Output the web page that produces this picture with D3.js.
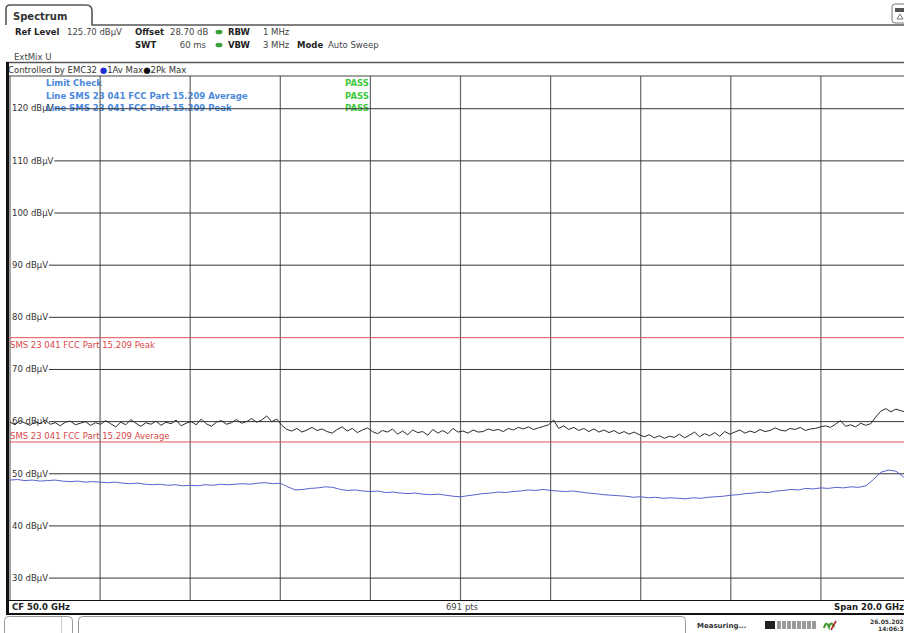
<!DOCTYPE html>
<html>
<head>
<meta charset="utf-8">
<script src="https://cdn.jsdelivr.net/npm/d3@7"></script>
<style>
body { margin: 0; background: #fff; }
svg { display: block; font-family: "DejaVu Sans", Verdana, sans-serif; }
</style>
</head>
<body>
<svg id="chart" width="904" height="633"></svg>
<script>
// sweep settings (CF 50 GHz, span 20 GHz)
let freqStart = 40;
let freqStop = 60;
let refLevel = 125.7;
let rangeDb = 100;

let yTicks = [120, 110, 100, 90, 80, 70, 60, 50, 40, 30];
let xGridFreqs = [40, 42, 44, 46, 48, 50, 52, 54, 56, 58, 60];

let limitNames = ["SMS 23 041 FCC Part 15.209 Peak", "SMS 23 041 FCC Part 15.209 Average"];
let limitLevels = [76, 56];

let checkRows = ["Limit Check", "Line SMS 23 041 FCC Part 15.209 Average", "Line SMS 23 041 FCC Part 15.209 Peak"];
let checkResults = ["PASS", "PASS", "PASS"];

// trace 2: Pk Max (dBµV)
let peakLevels = [
    59.8, 59.3, 60.1, 59.6, 59.2, 59.9, 59.5, 60.2, 59.4, 59.7, 59.1, 59.8, 60.0, 59.3, 59.6, 59.9, 59.2, 59.7,
    59.4, 60.1, 59.5, 58.9, 59.8, 59.3, 60.3, 59.6, 59.0, 59.7, 59.4, 60.0, 59.2, 59.8, 59.5, 60.2, 59.1, 59.6,
    59.9, 59.3, 60.4, 59.5, 59.0, 59.8, 60.1, 59.4, 59.7, 60.3, 59.6, 59.9, 60.5, 59.8, 60.2, 61.0, 59.9, 60.4,
    59.2, 58.4, 58.1, 58.6, 57.9, 58.3, 58.8, 58.2, 58.5, 58.0, 57.7, 58.4, 58.9, 58.1, 58.6, 57.8, 58.3, 58.7,
    58.0, 57.6, 58.2, 57.9, 58.5, 57.5, 58.1, 57.4, 58.3, 57.8, 58.0, 57.3, 58.4, 57.7, 58.2, 57.6, 58.6, 57.9,
    58.1, 57.7, 58.3, 57.9, 58.0, 58.5, 58.2, 58.4, 58.0, 58.6, 58.3, 58.8, 58.5, 58.9, 58.4, 58.7, 59.0, 59.3,
    60.2, 58.6, 59.1, 58.4, 58.8, 58.2, 58.6, 58.0, 58.5, 57.9, 58.3, 57.8, 58.2, 57.6, 58.0, 57.5, 57.9, 57.4,
    57.0, 57.4, 56.8, 57.2, 56.7, 57.1, 56.9, 57.5, 56.8, 57.3, 57.9, 57.0, 57.6, 57.2, 57.8, 57.1, 58.0, 57.5,
    57.9, 58.3, 57.7, 58.1, 57.8, 58.4, 58.0, 58.2, 58.7, 58.3, 58.1, 58.6, 58.4, 58.8, 58.2, 58.5, 58.6, 58.9,
    59.1, 58.8, 59.4, 60.1, 59.0, 59.3, 58.9, 59.6, 59.2, 59.5,
    60.8, 61.9, 62.4, 61.8, 62.3, 62.0, 61.7, 61.0
];

// trace 1: Av Max (dBµV)
let avgLevels = [
    48.7, 48.8, 48.6, 48.7, 48.5, 48.6, 48.7, 48.5, 48.4, 48.5, 48.3, 48.4, 48.3, 48.2, 48.3, 48.1,
    48.0, 48.1, 47.9, 47.8, 47.9, 47.7, 47.8, 47.6, 47.7, 47.6, 47.8, 47.7, 47.9, 47.8, 47.9, 48.0,
    47.9, 48.1, 48.2, 48.0, 48.1, 47.4, 46.8, 46.9, 47.1, 47.2, 47.4, 47.3, 46.9, 46.7, 46.8, 46.6,
    46.5, 46.6, 46.3, 46.4, 46.2, 46.1, 46.2, 46.0, 45.9, 46.0, 45.8, 45.6, 45.5, 45.7, 45.9, 46.1,
    46.2, 46.4, 46.3, 46.5, 46.6, 46.8, 46.7, 46.9, 46.7, 46.6, 46.5, 46.6, 46.4, 46.2, 46.1, 45.9,
    45.8, 45.7, 45.6, 45.4, 45.5, 45.3, 45.4, 45.2, 45.3, 45.2, 45.1, 45.3, 45.2, 45.4, 45.5, 45.6,
    45.8, 45.9, 46.1, 46.2, 46.4, 46.3, 46.6, 46.7, 46.9, 46.8, 47.1, 47.0, 47.2, 47.1, 47.3, 47.2,
    47.4, 47.3, 47.6, 48.8, 50.2, 50.6, 50.4, 49.3, 47.9
];

let svg = d3.select("#chart");
let W = 904;
let plotTop = 76;
let plotBottom = 600;

let x = d3.scaleLinear().domain([freqStart, freqStop]).range([10, 911]);
let y = d3.scaleLinear().domain([refLevel - rangeDb, refLevel]).range([600, 78.5]);

let fs = "8.5px";

//=================================
//       header / settings
//=================================
// "Spectrum" tab
svg.append("path")
    .attr("d", "M6,25 L6,9 Q6,5 10,5 L86,5 Q92,5 92,11 L92,25 L904,25")
    .attr("fill", "none").attr("stroke", "#555").attr("stroke-width", 1.6);
svg.append("text").attr("x", 13).attr("y", 20)
    .style("font-size", "10px").style("font-weight", "bold").attr("fill", "#333")
    .text("Spectrum");

// icon at the top right corner
svg.append("rect").attr("x", 892).attr("y", 4).attr("width", 20).attr("height", 19).attr("rx", 3)
    .attr("fill", "#fff").attr("stroke", "#777");
svg.append("rect").attr("x", 895).attr("y", 8).attr("width", 9).attr("height", 4).attr("fill", "#555");
svg.append("path").attr("d", "M897,19 L900,14 L903,19 Z").attr("fill", "none").attr("stroke", "#777");

function hText(xp, yp, t, bold, anchor) {
    svg.append("text").attr("x", xp).attr("y", yp)
        .attr("text-anchor", anchor || "start")
        .style("font-size", fs)
        .style("font-weight", bold ? "bold" : "normal")
        .attr("fill", bold ? "#222" : "#444")
        .text(t);
}
hText(15, 35, "Ref Level", true);
hText(67, 35, "125.70 dBµV", false);
hText(135, 35, "Offset", true);
hText(170, 35, "28.70 dB", false);
hText(228, 35, "RBW", true);
hText(263, 35, "1 MHz", false);
hText(135, 48, "SWT", true);
hText(206, 48, "60 ms", false, "end");
hText(228, 48, "VBW", true);
hText(263, 48, "3 MHz", false);
hText(297, 48, "Mode", true);
hText(328, 48, "Auto Sweep", false);
hText(14, 60, "ExtMix U", false);
[32, 45].forEach(function (cy) {
    svg.append("ellipse").attr("cx", 219).attr("cy", cy).attr("rx", 3.5).attr("ry", 2.3).attr("fill", "#3aa03a");
});

svg.append("line").attr("x1", 6).attr("x2", W).attr("y1", 62.5).attr("y2", 62.5)
    .attr("stroke", "#555").attr("stroke-width", 1.6);

// trace legend row
let ctl = svg.append("text").attr("x", 8).attr("y", 73).style("font-size", fs).attr("fill", "#333");
ctl.append("tspan").text("Controlled by EMC32 ");
ctl.append("tspan").attr("fill", "#2030d0").text("●");
ctl.append("tspan").text("1Av Max");
ctl.append("tspan").attr("fill", "#111").text("●");
ctl.append("tspan").text("2Pk Max");

//=================================
//       limit check legend
//=================================
let check = svg.append("g");
checkRows.forEach(function (t, i) {
    check.append("text").attr("x", 46).attr("y", 86 + i * 12.7)
        .style("font-size", fs).style("font-weight", "bold").attr("fill", "#4a88dc").text(t);
    check.append("text").attr("x", 345).attr("y", 86 + i * 12.7)
        .style("font-size", fs).style("font-weight", "bold").attr("fill", "#3ec83e").text(checkResults[i]);
});

//=================================
//            grid
//=================================
let grid = svg.append("g");
xGridFreqs.forEach(function (f) {
    grid.append("line").attr("x1", x(f)).attr("x2", x(f)).attr("y1", plotTop).attr("y2", plotBottom)
        .attr("stroke", "#666").attr("stroke-width", 1.2);
});

let yAxis = d3.axisRight(y).tickValues(yTicks).tickSize(0).tickPadding(0)
    .tickFormat(function (d) { return d + " dBµV"; });
let axisG = svg.append("g").attr("transform", "translate(12,0)").call(yAxis);
axisG.select(".domain").remove();
axisG.selectAll("text").style("font-size", fs).style("font-family", "DejaVu Sans, sans-serif").attr("fill", "#333");
axisG.selectAll(".tick").each(function (d) {
    let len = this.querySelector("text").getComputedTextLength();
    grid.append("line").attr("x1", 12 + len + 1).attr("x2", W).attr("y1", y(d) + 0.5).attr("y2", y(d) + 0.5)
        .attr("stroke", "#333").attr("stroke-width", 1);
});

// limit lines
limitLevels.forEach(function (lv, i) {
    svg.append("line").attr("x1", 10).attr("x2", W).attr("y1", y(lv)).attr("y2", y(lv))
        .attr("stroke", "#e05050").attr("stroke-width", 1);
    svg.append("text").attr("x", 10).attr("y", i === 0 ? y(lv) + 10 : y(lv) - 3)
        .style("font-size", fs).attr("fill", "#d84848").text(limitNames[i]);
});

//=================================
//            traces
//=================================
svg.append("clipPath").attr("id", "plotClip").append("rect")
    .attr("x", 10).attr("y", plotTop).attr("width", 901).attr("height", plotBottom - plotTop);

function traceLine(levels) {
    let step = (freqStop - freqStart) / (levels.length - 1);
    return d3.line()
        .x(function (d, i) { return x(freqStart + i * step); })
        .y(function (d) { return y(d); })(levels);
}
svg.append("path").attr("d", traceLine(avgLevels)).attr("clip-path", "url(#plotClip)")
    .attr("fill", "none").attr("stroke", "#5a62d0").attr("stroke-width", 1);
svg.append("path").attr("d", traceLine(peakLevels)).attr("clip-path", "url(#plotClip)")
    .attr("fill", "none").attr("stroke", "#2a2a2a").attr("stroke-width", 1);

//=================================
//        frame and footer
//=================================
svg.append("line").attr("x1", 6).attr("x2", W).attr("y1", plotTop).attr("y2", plotTop)
    .attr("stroke", "#444").attr("stroke-width", 1);
svg.append("line").attr("x1", 6).attr("x2", W).attr("y1", plotBottom + 0.5).attr("y2", plotBottom + 0.5)
    .attr("stroke", "#111").attr("stroke-width", 1.2);
svg.append("line").attr("x1", 6).attr("x2", W).attr("y1", 614).attr("y2", 614)
    .attr("stroke", "#111").attr("stroke-width", 2.2);
svg.append("line").attr("x1", 7.5).attr("x2", 7.5).attr("y1", 62).attr("y2", 615)
    .attr("stroke", "#111").attr("stroke-width", 3);

hText(12, 610, "CF 50.0 GHz", true);
hText(462, 610, "691 pts", false, "middle");
hText(904, 610, "Span 20.0 GHz", true, "end");

// status bar
svg.append("rect").attr("x", 4.5).attr("y", 616.5).attr("width", 68).attr("height", 22).attr("rx", 4)
    .attr("fill", "#fff").attr("stroke", "#999");
svg.append("line").attr("x1", 61.5).attr("x2", 61.5).attr("y1", 617).attr("y2", 633).attr("stroke", "#ccc");
svg.append("rect").attr("x", 78.5).attr("y", 616.5).attr("width", 607).attr("height", 22).attr("rx", 4)
    .attr("fill", "#fff").attr("stroke", "#999");
svg.append("text").attr("x", 697).attr("y", 628).style("font-size", "7px").style("font-weight", "bold")
    .attr("fill", "#333").text("Measuring...");
svg.append("rect").attr("x", 765).attr("y", 621).attr("width", 10).attr("height", 8).attr("fill", "#222");
d3.range(8).forEach(function (i) {
    svg.append("rect").attr("x", 777 + i * 5).attr("y", 621).attr("width", 4).attr("height", 8).attr("fill", "#9a9a9a");
});
svg.append("path").attr("d", "M824,628 Q826,620 829,627 Q831,620 834,627")
    .attr("fill", "none").attr("stroke", "#4a9a30").attr("stroke-width", 2.2);
svg.append("path").attr("d", "M836,621 L831,630").attr("stroke", "#b03030").attr("stroke-width", 1.6);
svg.append("text").attr("x", 870).attr("y", 624).style("font-size", "6px").style("font-weight", "bold")
    .attr("fill", "#333").text("26.05.2025");
svg.append("text").attr("x", 878).attr("y", 631).style("font-size", "6px").style("font-weight", "bold")
    .attr("fill", "#333").text("14:06:37");
</script>
</body>
</html>
